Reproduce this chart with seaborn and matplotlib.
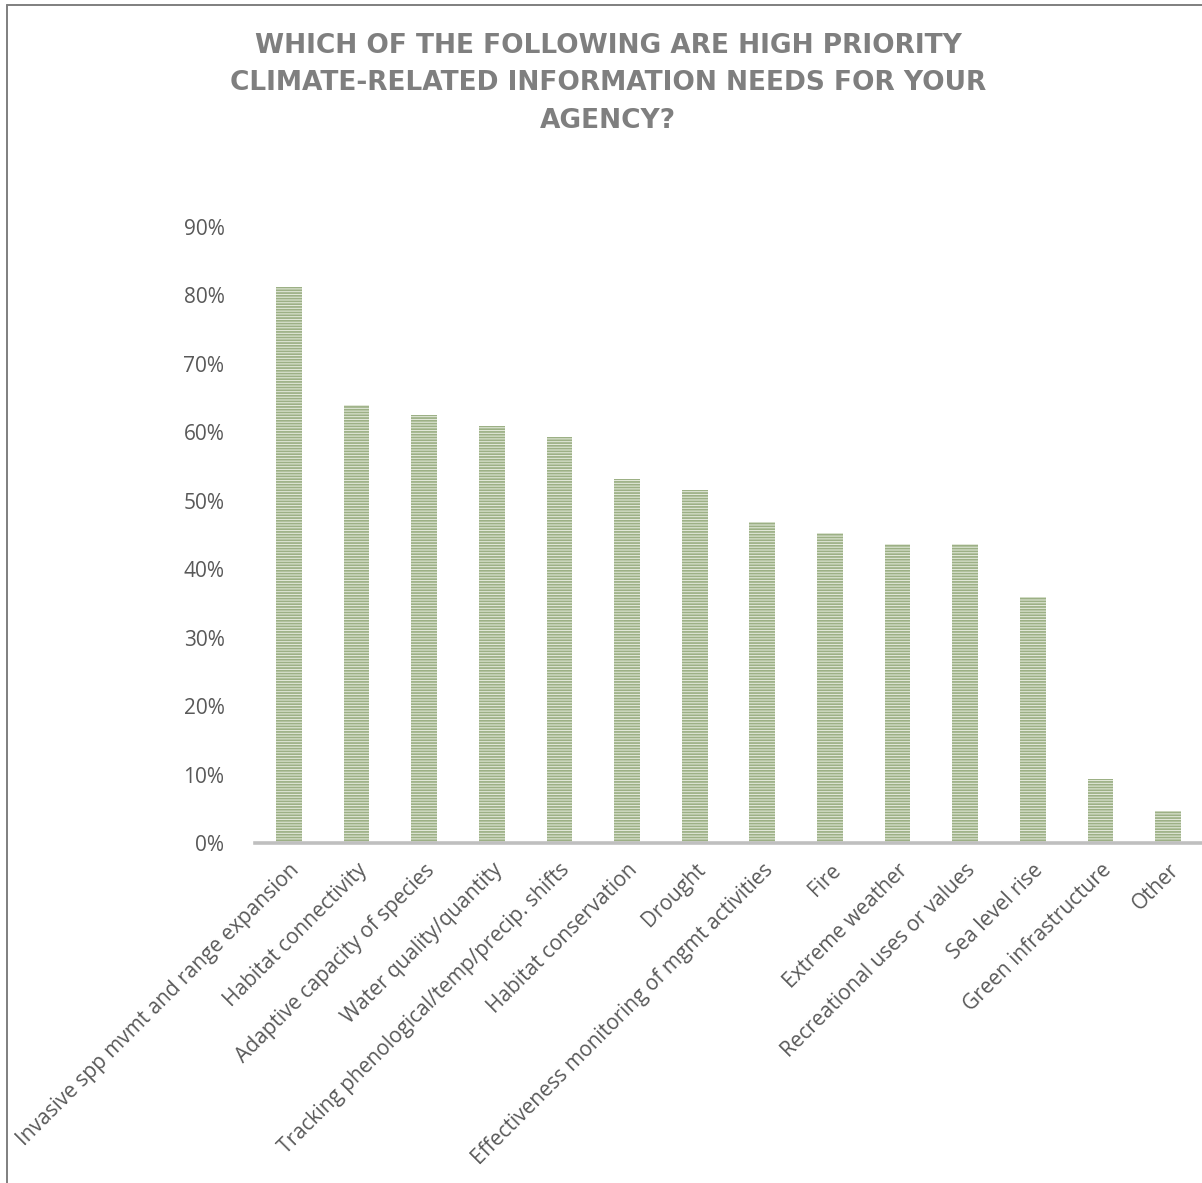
import matplotlib
matplotlib.use("Agg")
import matplotlib.pyplot as plt
from matplotlib.lines import Line2D
import seaborn as sns
import pandas as pd

categories = [
    "Invasive spp mvmt and range expansion",
    "Habitat connectivity",
    "Adaptive capacity of species",
    "Water quality/quantity",
    "Tracking phenological/temp/precip. shifts",
    "Habitat conservation",
    "Drought",
    "Effectiveness monitoring of mgmt activities",
    "Fire",
    "Extreme weather",
    "Recreational uses or values",
    "Sea level rise",
    "Green infrastructure",
    "Other",
]
shares = [0.8125, 0.6406, 0.625, 0.6094, 0.5938, 0.5313, 0.5156,
          0.4688, 0.4531, 0.4375, 0.4375, 0.3594, 0.0938, 0.0469]
ytick_values = [0.0, 0.1, 0.2, 0.3, 0.4, 0.5, 0.6, 0.7, 0.8, 0.9]
ytick_labels = ["0%", "10%", "20%", "30%", "40%", "50%", "60%", "70%", "80%", "90%"]
title_lines = [
    "WHICH OF THE FOLLOWING ARE HIGH PRIORITY",
    "CLIMATE-RELATED INFORMATION NEEDS FOR YOUR",
    "AGENCY?",
]

sns.set_theme(style="white")
plt.rcParams["font.family"] = ["Open Sans", "DejaVu Sans"]
plt.rcParams["hatch.linewidth"] = 1.25

df = pd.DataFrame({"category": categories, "share": shares})

W, H = 1202, 1183
fig = plt.figure(figsize=(W / 100, H / 100), dpi=100)
ax = fig.add_axes([255 / W, 1 - 843 / H, (W - 255) / W, (843 - 227) / H])

sns.barplot(data=df, x="category", y="share", ax=ax, width=0.38,
            color="#dfe7d5", linewidth=0)
for patch in ax.patches:
    patch.set_hatch("------")
    patch.set_facecolor("#e4eadc")
    patch.set_edgecolor("#9cb085")
    patch.set_linewidth(0)

ax.set_ylim(0, 0.9)
ax.set_xlim(-0.5, len(categories) - 0.5)
ax.set_yticks(ytick_values)
ax.set_yticklabels(ytick_labels, fontsize=15, color="#595959")
ax.set_xticks(range(len(categories)))
ax.set_xticklabels(categories, rotation=45, ha="right", va="top",
                   rotation_mode="anchor", fontsize=15, color="#595959")
ax.tick_params(axis="y", length=0, pad=22)
ax.tick_params(axis="x", length=0, pad=12)
ax.set_xlabel("")
ax.set_ylabel("")
for side in ["left", "right", "top"]:
    ax.spines[side].set_visible(False)
ax.spines["bottom"].set_color("#bfbfbf")
ax.spines["bottom"].set_linewidth(2.6)

y0 = 1 - 46 / H
for i, line in enumerate(title_lines):
    fig.text(0.5 + 7 / W, y0 - i * 37.5 / H, line, ha="center", va="center",
             fontsize=19, fontweight="bold", color="#7f7f7f",
             family=["DejaVu Sans"])

# outer chart frame (top and left edges)
fig.add_artist(Line2D([7 / W, 1.0], [1 - 5 / H, 1 - 5 / H], transform=fig.transFigure,
                      color="#7f7f7f", linewidth=1.4))
fig.add_artist(Line2D([7 / W, 7 / W], [0.0, 1 - 5 / H], transform=fig.transFigure,
                      color="#7f7f7f", linewidth=1.4))

fig.savefig("out.png", dpi=100)
